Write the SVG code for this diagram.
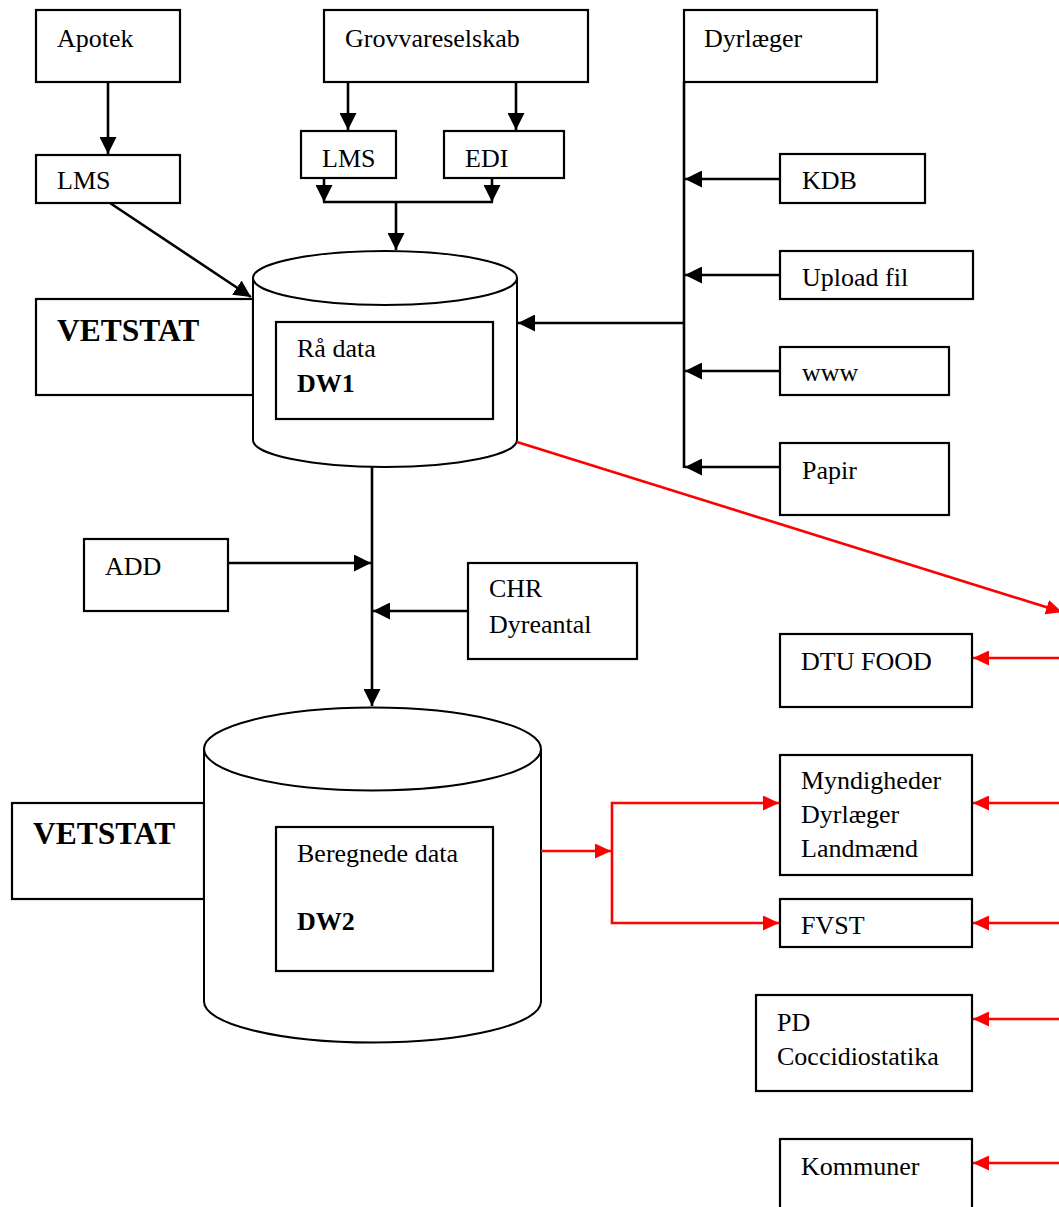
<svg xmlns="http://www.w3.org/2000/svg" width="1059" height="1207" viewBox="0 0 1059 1207">
<style>
.box{fill:#fff;stroke:#000;stroke-width:2.2}
.cyl{fill:#fff;stroke:#000;stroke-width:2}
.t{font-family:"Liberation Serif","Times New Roman",serif;font-size:26px;fill:#000}
.b{font-weight:bold}
.big{font-size:31.5px}
.k{fill:none;stroke:#000;stroke-width:2.6;marker-end:url(#ak)}
.kn{fill:none;stroke:#000;stroke-width:2.6}
.r{fill:none;stroke:#f00;stroke-width:2.6;marker-end:url(#ar)}
</style>
<defs>
<marker id="ak" markerUnits="userSpaceOnUse" markerWidth="17" markerHeight="17" refX="17" refY="8.5" orient="auto"><path d="M0,0 L17,8.5 L0,17 z" fill="#000"/></marker>
<marker id="ar" markerUnits="userSpaceOnUse" markerWidth="16" markerHeight="15" refX="16" refY="7.5" orient="auto"><path d="M0,0 L16,7.5 L0,15 z" fill="#f00"/></marker>
</defs>
<rect width="1059" height="1207" fill="#fff"/>

<g id="apotek"><rect class="box" x="36" y="10" width="144" height="72"/><text class="t" x="57" y="47">Apotek</text></g>
<g id="lms1"><rect class="box" x="36" y="155" width="144" height="48"/><text class="t" x="57" y="189">LMS</text></g>
<g id="grovvareselskab"><rect class="box" x="324" y="10" width="264" height="72"/><text class="t" x="345" y="47">Grovvareselskab</text></g>
<g id="lms2"><rect class="box" x="301" y="131" width="95" height="47"/><text class="t" x="322" y="167">LMS</text></g>
<g id="edi"><rect class="box" x="444" y="131" width="120" height="47"/><text class="t" x="465" y="167">EDI</text></g>
<g id="dyrlaeger"><rect class="box" x="684" y="10" width="193" height="72"/><text class="t" x="704" y="47">Dyrlæger</text></g>
<g id="kdb"><rect class="box" x="780" y="154" width="145" height="49"/><text class="t" x="802" y="189">KDB</text></g>
<g id="upload"><rect class="box" x="780" y="251" width="193" height="48"/><text class="t" x="802" y="286">Upload fil</text></g>
<g id="www"><rect class="box" x="780" y="347" width="169" height="48"/><text class="t" x="802" y="381">www</text></g>
<g id="papir"><rect class="box" x="780" y="443" width="169" height="72"/><text class="t" x="802" y="479">Papir</text></g>

<g id="dw1">
<rect class="box" x="36" y="299" width="217" height="96"/>
<text class="t b big" x="57" y="341">VETSTAT</text>
<path class="cyl" d="M253,278 L253,440 A132,27 0 0 0 517,440 L517,278"/>
<ellipse class="cyl" cx="385" cy="278" rx="132" ry="27"/>
<rect class="box" x="276" y="322" width="217" height="97"/>
<text class="t" x="297" y="357">Rå data</text>
<text class="t b" x="297" y="392">DW1</text>
</g>

<g id="add"><rect class="box" x="84" y="539" width="144" height="72"/><text class="t" x="105" y="575">ADD</text></g>
<g id="chr"><rect class="box" x="468" y="563" width="169" height="96"/><text class="t" x="489" y="597">CHR</text><text class="t" x="489" y="633">Dyreantal</text></g>

<g id="dw2">
<rect class="box" x="12" y="803" width="192" height="96"/>
<text class="t b big" x="33" y="844">VETSTAT</text>
<path class="cyl" d="M204,749 L204,1001.5 A168.5,41 0 0 0 541,1001.5 L541,749"/>
<ellipse class="cyl" cx="372.5" cy="749" rx="168.5" ry="41.5"/>
<rect class="box" x="276" y="827" width="217" height="144"/>
<text class="t" x="297" y="862">Beregnede data</text>
<text class="t b" x="297" y="930">DW2</text>
</g>

<g id="dtufood"><rect class="box" x="780" y="634" width="192" height="73"/><text class="t" x="801" y="670">DTU FOOD</text></g>
<g id="myndigheder"><rect class="box" x="780" y="755" width="192" height="120"/><text class="t" x="801" y="789">Myndigheder</text><text class="t" x="801" y="823">Dyrlæger</text><text class="t" x="801" y="857">Landmænd</text></g>
<g id="fvst"><rect class="box" x="780" y="899" width="192" height="48"/><text class="t" x="801" y="934">FVST</text></g>
<g id="pd"><rect class="box" x="756" y="995" width="216" height="96"/><text class="t" x="777" y="1031">PD</text><text class="t" x="777" y="1065">Coccidiostatika</text></g>
<g id="kommuner"><rect class="box" x="780" y="1139" width="192" height="80"/><text class="t" x="801" y="1175">Kommuner</text></g>

<g id="connectors">
<path class="k" d="M108,82 L108,154"/>
<path class="k" d="M110,203 L251,297"/>
<path class="k" d="M348,82 L348,130"/>
<path class="k" d="M516,82 L516,130"/>
<path class="k" d="M324,178 L324,202"/>
<path class="k" d="M492,178 L492,202"/>
<path class="kn" d="M323,202 L493,202"/>
<path class="k" d="M396,202 L396,250"/>
<path class="kn" d="M684,82 L684,468"/>
<path class="k" d="M684,323 L518,323"/>
<path class="k" d="M780,179 L685,179"/>
<path class="k" d="M780,275 L685,275"/>
<path class="k" d="M780,371 L685,371"/>
<path class="k" d="M780,467 L685,467"/>
<path class="k" d="M372,466 L372,706"/>
<path class="k" d="M228,563 L371,563"/>
<path class="k" d="M468,611 L373,611"/>
<path class="r" d="M517,442 L1062,612"/>
<path class="r" d="M541,851 L611,851"/>
<path class="r" d="M612,851 L612,803 L779,803"/>
<path class="r" d="M612,851 L612,923 L779,923"/>
<path class="r" d="M1070,658 L973,658"/>
<path class="r" d="M1070,803 L973,803"/>
<path class="r" d="M1070,923 L973,923"/>
<path class="r" d="M1070,1019 L973,1019"/>
<path class="r" d="M1070,1163 L973,1163"/>
</g>
</svg>
